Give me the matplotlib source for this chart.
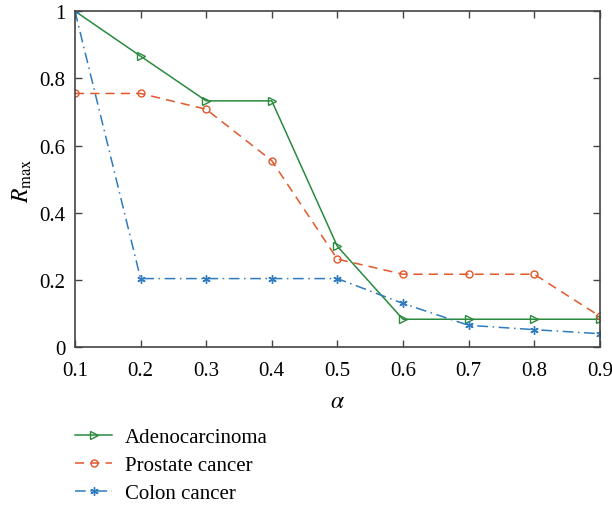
import matplotlib
matplotlib.use("Agg")
import matplotlib.pyplot as plt

alpha = [0.1, 0.2, 0.3, 0.4, 0.5, 0.6, 0.7, 0.8, 0.9]
adeno = [1.0, 0.866, 0.733, 0.733, 0.30, 0.083, 0.083, 0.083, 0.083]
prostate = [0.755, 0.755, 0.708, 0.555, 0.262, 0.217, 0.217, 0.217, 0.092]
colon = [1.0, 0.204, 0.204, 0.204, 0.204, 0.13, 0.065, 0.052, 0.04]
xticks = [0.1, 0.2, 0.3, 0.4, 0.5, 0.6, 0.7, 0.8, 0.9]
yticks = [0, 0.2, 0.4, 0.6, 0.8, 1]

plt.rcParams['font.family'] = ['Liberation Serif', 'DejaVu Serif']
plt.rcParams['mathtext.fontset'] = 'stix'

fig = plt.figure(figsize=(6.12, 5.06), dpi=100)
ax = fig.add_axes([0.1225, 0.312, 0.8575, 0.664])

ax.plot(alpha, adeno, color='#2a8a3e', lw=1.1, marker='>', ms=6, mfc='none', mew=1.0, label='Adenocarcinoma')
ax.plot(alpha, prostate, color='#e0582b', lw=1.1, ls=(0, (6, 4)), marker='o', ms=5, mfc='none', mew=1.0, label='Prostate cancer')
ax.plot(alpha, colon, color='#2e7bbf', lw=1.1, ls=(0, (7, 3, 1, 3)), marker=(6, 2, 0), ms=6, mew=1.0, label='Colon cancer')

ax.set_xlim(0.1, 0.9)
ax.set_ylim(0, 1)
ax.set_xticks(xticks)
ax.set_xticklabels([f'{v:g}' for v in xticks])
ax.set_yticks(yticks)
ax.set_yticklabels([f'{v:g}' for v in yticks])
ax.tick_params(direction='in', top=True, right=True, labelsize=15, length=5, color='#444444', width=1.0)
ax.tick_params(axis='x', pad=10)
ax.tick_params(axis='y', pad=7)
for s in ax.spines.values():
    s.set_color('#444444')
    s.set_linewidth(1.2)
ax.set_xlabel(r'$\alpha$', fontsize=17, labelpad=8)
ax.set_ylabel(r'$R_{\mathrm{max}}$', fontsize=17, labelpad=4)

leg = ax.legend(loc='upper left', bbox_to_anchor=(0.0, -0.24), frameon=False, fontsize=15,
                handlelength=1.8, labelspacing=0.4, handletextpad=0.6, borderpad=0.0,
                borderaxespad=0.0)

fig.savefig('out.png', dpi=100)
